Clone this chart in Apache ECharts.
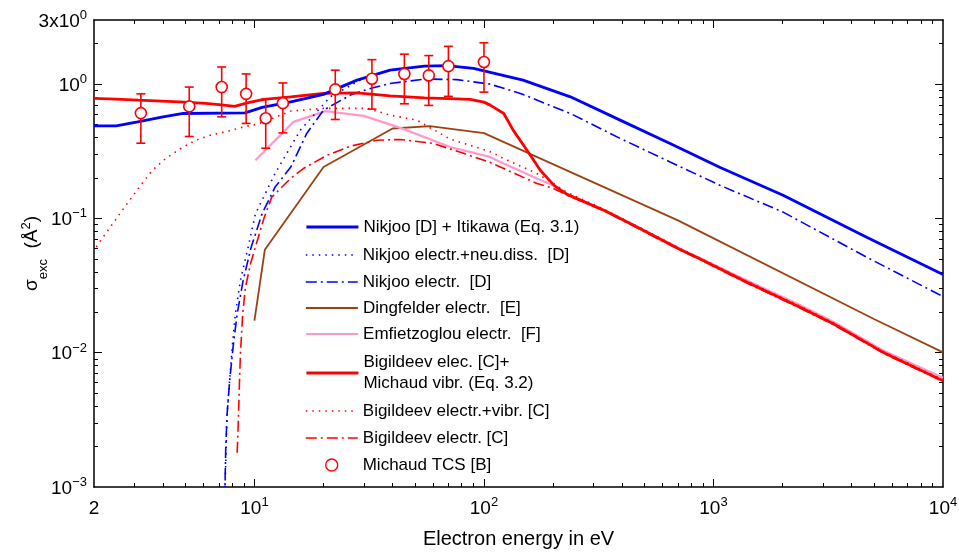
<!DOCTYPE html>
<html><head><meta charset="utf-8">
<script src="https://cdn.jsdelivr.net/npm/echarts@6/dist/echarts.min.js"></script>
<style>html,body{margin:0;padding:0;background:#fff}#c{width:959px;height:555px}</style>
</head><body><div id="c"></div>
<script>
// ---------------- data (energy in eV, cross section in Å²) ----------------
const nikjooTotE = [2, 2.5, 3.1, 4.0, 4.9, 9.1, 10.8, 14.4, 20, 28, 39, 55, 69, 90, 148, 238, 392, 647, 1070, 2010, 4650, 10000];
const nikjooTotV = [0.489, 0.489, 0.524, 0.571, 0.604, 0.611, 0.670, 0.738, 0.838, 1.07, 1.27, 1.36, 1.37, 1.31, 1.07, 0.804, 0.539, 0.361, 0.239, 0.1485, 0.0725, 0.0382];

const nikjooNdE = [7.42, 7.6, 8.0, 8.26, 8.69, 9.39, 10.1, 12.3, 15.85, 21.4, 28.9, 39, 55, 69, 90, 148, 238, 392, 647, 1070, 2010, 4650, 10000];
const nikjooNdV = [0.0008, 0.00349, 0.011, 0.0195, 0.0345, 0.0611, 0.108, 0.216, 0.454, 0.804, 1.07, 1.27, 1.36, 1.37, 1.31, 1.07, 0.804, 0.539, 0.361, 0.239, 0.1485, 0.0725, 0.0382];

const nikjooElE = [7.42, 7.5, 7.6, 7.8, 8.07, 8.41, 8.93, 9.68, 10.8, 12.3, 14.4, 16.9, 20, 26.2, 31, 39, 55, 76, 106, 144, 238, 392, 647, 1070, 2010, 4650, 10000];
const nikjooElV = [0.0008, 0.00196, 0.00349, 0.00618, 0.01096, 0.01945, 0.0345, 0.0611, 0.1084, 0.171, 0.241, 0.429, 0.640, 0.828, 0.913, 1.01, 1.09, 1.08, 1.0, 0.852, 0.604, 0.394, 0.263, 0.176, 0.1114, 0.0514, 0.0262];

const dingE = [10, 11.1, 20, 40, 58, 100, 700, 5000, 10000];
const dingV = [0.0173, 0.0584, 0.241, 0.467, 0.486, 0.431, 0.0966, 0.0178, 0.01005];

const emfE = [10.1, 14.8, 20.4, 29.9, 43.2, 71.3, 106, 122, 170, 201, 230, 333, 464, 715, 871, 1349, 2383, 3327, 5495, 10000];
const emfV = [0.271, 0.523, 0.629, 0.580, 0.472, 0.340, 0.287, 0.256, 0.198, 0.176, 0.152, 0.116, 0.087, 0.0595, 0.0508, 0.0355, 0.0227, 0.0170, 0.0104, 0.0065];

const bigMichE = [2, 2.48, 3.12, 4.7, 6.12, 7.2, 8.2, 9.3, 11, 14.4, 20, 28, 39, 55, 76, 87, 100, 106.5, 122, 134, 154, 176, 202, 230, 333, 464, 715, 871, 1349, 2383, 3327, 5495, 10000];
const bigMichV = [0.782, 0.773, 0.760, 0.738, 0.718, 0.70, 0.682, 0.725, 0.77, 0.804, 0.852, 0.861, 0.818, 0.790, 0.777, 0.769, 0.734, 0.697, 0.604, 0.454, 0.322, 0.228, 0.176, 0.151, 0.115, 0.0861, 0.0587, 0.0500, 0.0345, 0.0218, 0.0164, 0.01005, 0.00618];

const bigVibE = [1.9, 2.14, 2.44, 2.79, 3.19, 3.59, 4.10, 4.77, 5.54, 6.43, 7.73, 8.98, 10.3, 14.4, 20, 31, 39, 51, 71, 106, 122, 170, 201, 230, 333, 464, 715, 871, 1349, 2383, 3327, 5495, 10000];
const bigVibV = [0.051, 0.0685, 0.0938, 0.129, 0.176, 0.228, 0.279, 0.331, 0.382, 0.416, 0.448, 0.480, 0.503, 0.629, 0.659, 0.659, 0.587, 0.539, 0.39, 0.315, 0.279, 0.216, 0.182, 0.156, 0.117, 0.0875, 0.0597, 0.0508, 0.0351, 0.0222, 0.0167, 0.0102, 0.0063];

const bigElE = [8.41, 8.49, 8.61, 8.69, 8.89, 9.14, 9.61, 10.3, 11.0, 11.9, 14.4, 16.4, 20.7, 26.2, 34.2, 43.2, 60.4, 81.5, 106, 122, 170, 201, 230, 333, 464, 715, 871, 1349, 2383, 3327, 5495, 10000];
const bigElV = [0.0018, 0.00277, 0.00618, 0.00978, 0.0195, 0.0307, 0.0459, 0.0685, 0.1, 0.144, 0.199, 0.236, 0.295, 0.345, 0.382, 0.387, 0.361, 0.305, 0.262, 0.235, 0.182, 0.167, 0.149, 0.114, 0.085, 0.058, 0.0495, 0.034, 0.0215, 0.0162, 0.0099, 0.0061];

const michE  = [3.2, 5.2, 7.2, 9.2, 11.2, 13.3, 22.5, 32.5, 45, 57.5, 70, 100];
const michV  = [0.608, 0.682, 0.95, 0.846, 0.557, 0.721, 0.913, 1.095, 1.19, 1.16, 1.36, 1.46];
const michLo = [0.363, 0.407, 0.570, 0.509, 0.333, 0.433, 0.545, 0.651, 0.713, 0.694, 0.81, 0.871];
const michHi = [0.846, 0.95, 1.34, 1.19, 0.773, 1.02, 1.27, 1.52, 1.67, 1.63, 1.91, 2.03];

const xLabelVals = [2, 10, 100, 1000, 10000];
const xMajorTicks = [10, 100, 1000];
const xMinorTicks = [3,4,5,6,7,8,9,20,30,40,50,60,70,80,90,200,300,400,500,600,700,800,900,2000,3000,4000,5000,6000,7000,8000,9000];
const yLabelVals = [0.001, 0.01, 0.1, 1, 3];
const yMajorTicks = [0.01, 0.1, 1];
const yMinorTicks = [0.002,0.003,0.004,0.005,0.006,0.007,0.008,0.009,0.02,0.03,0.04,0.05,0.06,0.07,0.08,0.09,0.2,0.3,0.4,0.5,0.6,0.7,0.8,0.9,2];

const names = [
  'Nikjoo [D] + Itikawa (Eq. 3.1)',
  'Nikjoo electr.+neu.diss.  [D]',
  'Nikjoo electr.  [D]',
  'Dingfelder electr.  [E]',
  'Emfietzoglou electr.  [F]',
  'Bigildeev elec. [C]+\nMichaud vibr. (Eq. 3.2)',
  'Bigildeev electr.+vibr. [C]',
  'Bigildeev electr. [C]',
  'Michaud TCS [B]'
];

// ---------------- chart ----------------
const FONT = '"Liberation Sans", Arial, sans-serif';
const pairs = (a, b) => a.map((v, i) => [v, b[i]]);
const GRID = {left: 94, right: 16, top: 20, bottom: 68, containLabel: false, outerBoundsMode: 'none'};

function fmtPow(v) {
  if (v === 2) return '{b|2}';
  if (Math.abs(v - 3) < 1e-9) return '{b|3x10}{s|0}';
  const e = Math.round(Math.log10(v));
  return '{b|10}{s|' + (e < 0 ? '\u2212' + (-e) : e) + '}';
}
const labelRich = {
  b: {fontSize: 19, fontFamily: FONT, color: '#000', lineHeight: 22, verticalAlign: 'bottom'},
  s: {fontSize: 13, fontFamily: FONT, color: '#000', lineHeight: 22, verticalAlign: 'top'}
};

function xAx(pos, ticks, len, withLabel, withLine) {
  return {
    type: 'log', logBase: 10, min: 2, max: 10000, position: pos, gridIndex: 0,
    axisLine: {show: withLine, onZero: false, lineStyle: {color: '#000', width: 1.5}},
    axisTick: {show: true, inside: true, length: len, customValues: ticks, lineStyle: {color: '#000', width: 1}},
    axisLabel: withLabel ? {show: true, customValues: xLabelVals, formatter: fmtPow, rich: labelRich, margin: 9} : {show: false},
    splitLine: {show: false}, minorTick: {show: false},
    name: withLabel ? 'Electron energy in eV' : '', nameLocation: 'middle', nameGap: 42, nameMoveOverlap: false,
    nameTextStyle: {fontSize: 20, fontFamily: FONT, color: '#000'}
  };
}
function yAx(pos, ticks, len, withLabel, withLine) {
  return {
    type: 'log', logBase: 10, min: 0.001, max: 3, position: pos, gridIndex: 0,
    axisLine: {show: withLine, onZero: false, lineStyle: {color: '#000', width: 1.5}},
    axisTick: {show: true, inside: true, length: len, customValues: ticks, lineStyle: {color: '#000', width: 1}},
    axisLabel: withLabel ? {show: true, customValues: yLabelVals, formatter: fmtPow, rich: labelRich, margin: 7} : {show: false},
    splitLine: {show: false}, minorTick: {show: false},
    name: withLabel ? '{g|\u03c3}{sub|exc}{g|  (\u00c5}{sup|2}{g|)}' : '', nameLocation: 'middle', nameGap: 50, nameRotate: 90,
    nameMoveOverlap: false,
    nameTextStyle: {rich: {
      g: {fontSize: 19, fontFamily: FONT, color: '#000', lineHeight: 24},
      sub: {fontSize: 13, fontFamily: FONT, color: '#000', lineHeight: 24, verticalAlign: 'bottom', padding: [0,0,-6,0]},
      sup: {fontSize: 13, fontFamily: FONT, color: '#000', lineHeight: 24, verticalAlign: 'top'}
    }}
  };
}

function lineSeries(name, E, V, color, width, type, z) {
  return {
    name, type: 'line', data: pairs(E, V), xAxisIndex: 0, yAxisIndex: 0,
    symbol: 'none', smooth: false, clip: true, z: z || 2,
    lineStyle: {color, width, type: type || 'solid', cap: 'butt'},
    itemStyle: {color}, emphasis: {disabled: true}, animation: false
  };
}
const DOT = [1.5, 5];
const DASHDOT = [11, 4, 2, 4];
const colBlue = '#0000ff', colRed = '#ff0000', colBrown = '#9c4212', colPink = '#ff99cc';

const series = [
  lineSeries(names[3], dingE, dingV, colBrown, 1.8, 'solid', 2),
  lineSeries(names[4], emfE, emfV, colPink, 2.2, 'solid', 2),
  lineSeries(names[7], bigElE, bigElV, colRed, 1.6, DASHDOT, 2),
  lineSeries(names[6], bigVibE, bigVibV, colRed, 1.6, DOT, 2),
  lineSeries(names[2], nikjooElE, nikjooElV, colBlue, 1.6, DASHDOT, 2),
  lineSeries(names[1], nikjooNdE, nikjooNdV, colBlue, 1.6, DOT, 2),
  lineSeries(names[5], bigMichE, bigMichV, colRed, 2.8, 'solid', 3),
  lineSeries(names[0], nikjooTotE, nikjooTotV, colBlue, 2.8, 'solid', 3),
  {
    name: 'errbars', type: 'custom', xAxisIndex: 0, yAxisIndex: 0, z: 4,
    data: michE.map((e, i) => [e, michLo[i], michHi[i]]),
    encode: {x: 0, y: [1, 2]}, animation: false,
    renderItem: (params, api) => {
      const x = api.value(0);
      const pHi = api.coord([x, api.value(2)]);
      const pLo = api.coord([x, api.value(1)]);
      const w = 4.5, st = {stroke: colRed, lineWidth: 1.6};
      return {type: 'group', children: [
        {type: 'line', shape: {x1: pHi[0], y1: pHi[1], x2: pLo[0], y2: pLo[1]}, style: st},
        {type: 'line', shape: {x1: pHi[0]-w, y1: pHi[1], x2: pHi[0]+w, y2: pHi[1]}, style: st},
        {type: 'line', shape: {x1: pLo[0]-w, y1: pLo[1], x2: pLo[0]+w, y2: pLo[1]}, style: st}
      ]};
    }
  },
  {
    name: names[8], type: 'scatter', data: pairs(michE, michV), xAxisIndex: 0, yAxisIndex: 0, z: 5,
    symbol: 'circle', symbolSize: 11, animation: false,
    itemStyle: {color: '#fff', borderColor: colRed, borderWidth: 1.6, opacity: 1}
  }
];

const legendY = [227, 255, 282, 308, 334, 373, 411, 438, 465];
const legendW = [2.8, 1.6, 1.6, 1.8, 2.2, 2.8, 1.6, 1.6, 1.6];
const legends = names.map((n, i) => ({
  data: [n], left: i === 8 ? 325 : 305, top: legendY[i] - (i === 5 ? 21 : 10), padding: 0,
  itemWidth: 52, itemHeight: 12, itemGap: 0, selectedMode: false, orient: 'vertical',
  textStyle: {fontSize: 17, fontFamily: FONT, color: '#000', lineHeight: i === 5 ? 21 : 20},
  lineStyle: {width: legendW[i]},
  itemStyle: i === 8 ? {color: '#fff', borderColor: colRed, borderWidth: 1.4} : {opacity: 0}
}));

const chart = echarts.init(document.getElementById('c'), null, {renderer: 'canvas'});
chart.setOption({
  backgroundColor: '#fff',
  animation: false,
  grid: GRID,
  xAxis: [
    xAx('bottom', xMajorTicks, 8, true, true),
    xAx('bottom', xMinorTicks, 4, false, false),
    xAx('top', xMajorTicks, 8, false, true),
    xAx('top', xMinorTicks, 4, false, false)
  ],
  yAxis: [
    yAx('left', yMajorTicks, 8, true, true),
    yAx('left', yMinorTicks, 4, false, false),
    yAx('right', yMajorTicks, 8, false, true),
    yAx('right', yMinorTicks, 4, false, false)
  ],
  legend: legends,
  series
});
</script></body></html>
